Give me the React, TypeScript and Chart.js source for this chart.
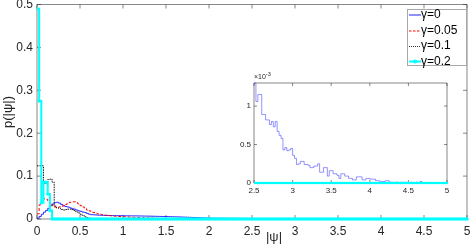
import React, { useEffect, useRef } from "react";
import { Chart, registerables } from "chart.js";

Chart.register(...registerables);

const FONT = '"Liberation Sans", Arial, Helvetica, sans-serif';
const TEXT_COLOR = "#262626";
const FRAME_COLOR = "rgba(38,38,38,0.55)";

// histogram bin positions (|psi|), step 0.025 from 0 to 5
const BIN_WIDTH = 0.025;
const binEdges: number[] = Array.from({ length: 201 }, (_, i) => Math.round(i * BIN_WIDTH * 1000) / 1000);

const xTicks = [0, 0.5, 1, 1.5, 2, 2.5, 3, 3.5, 4, 4.5, 5];
const yTicks = [0, 0.1, 0.2, 0.3, 0.4, 0.5];
const insetXTicks = [2.5, 3, 3.5, 4, 4.5, 5];
const insetYTicks = [0, 0.5, 1];
const legendLabels = ["γ=0", "γ=0.05", "γ=0.1", "γ=0.2"];

// gamma = 0, bins 0 .. 2.475
const gamma0Head = [
  0.002, 0.006, 0.011, 0.016, 0.020, 0.025, 0.031, 0.035, 0.038, 0.039,
  0.037, 0.034, 0.031, 0.029, 0.028, 0.026, 0.024, 0.023, 0.021, 0.019,
  0.018, 0.016, 0.015, 0.013, 0.011, 0.010, 0.0098, 0.0094, 0.0090, 0.0088,
  0.0086, 0.0084, 0.0083, 0.0082, 0.0081, 0.0080, 0.0079, 0.0078, 0.0078, 0.0077,
  0.0076, 0.0075, 0.0075, 0.0074, 0.0073, 0.0073, 0.0072, 0.0071, 0.0070, 0.0069,
  0.0068, 0.0067, 0.0066, 0.0065, 0.0064, 0.0062, 0.0061, 0.0060, 0.0058, 0.0057,
  0.0056, 0.0055, 0.0054, 0.0052, 0.0051, 0.0049, 0.0047, 0.0046, 0.0044, 0.0042,
  0.0040, 0.0038, 0.0036, 0.0034, 0.0032, 0.0030, 0.0028, 0.0026, 0.0024, 0.0022,
  0.0020, 0.0019, 0.0019, 0.0018, 0.0018, 0.0017, 0.0017, 0.0016, 0.0016, 0.0015,
  0.0015, 0.0015, 0.0014, 0.0014, 0.0014, 0.0013, 0.0013, 0.0013, 0.0012, 0.0012,
];

// gamma = 0, bins 2.5 .. 5.0, in units of 1e-3
const gamma0TailE3 = [
  1.30, 1.06, 1.15, 1.15, 0.89, 0.89, 0.82, 0.82, 0.76, 0.80,
  0.73, 0.80, 0.67, 0.62, 0.58, 0.43, 0.46, 0.42, 0.43, 0.45,
  0.36, 0.32, 0.24, 0.25, 0.28, 0.28, 0.24, 0.24, 0.23, 0.20,
  0.20, 0.22, 0.22, 0.25, 0.14, 0.14, 0.20, 0.20, 0.09, 0.16,
  0.16, 0.12, 0.12, 0.10, 0.06, 0.12, 0.12, 0.09, 0.09, 0.06,
  0.06, 0.04, 0.04, 0.08, 0.08, 0.08, 0.04, 0.04, 0.06, 0.06,
  0.05, 0.05, 0.05, 0.03, 0.03, 0.02, 0.02, 0.02, 0.03, 0.03,
  0.01, 0.01, 0, 0.01, 0.01, 0, 0.01, 0, 0.01, 0,
  0, 0.01, 0, 0, 0.01, 0, 0.02, 0, 0, 0,
  0, 0, 0, 0, 0, 0, 0, 0, 0, 0,
  0,
];

// gamma = 0.05, bins 0 .. 1.75
const gamma005 = [
  0.012, 0.033, 0.043, 0.047, 0.046, 0.042, 0.037, 0.031, 0.028, 0.027,
  0.028, 0.029, 0.031, 0.034, 0.037, 0.039, 0.040, 0.040, 0.038, 0.035,
  0.031, 0.028, 0.024, 0.021, 0.019, 0.017, 0.015, 0.014, 0.012, 0.011,
  0.010, 0.0092, 0.0086, 0.0080, 0.0075, 0.0070, 0.0066, 0.0062, 0.0058, 0.0055,
  0.0052, 0.0049, 0.0046, 0.0043, 0.0040, 0.0037, 0.0035, 0.0033, 0.0031, 0.0029,
  0.0027, 0.0025, 0.0023, 0.0021, 0.0019, 0.0017, 0.0016, 0.0014, 0.0013, 0.0012,
  0.0010, 0.0009, 0.0008, 0.0007, 0.0006, 0.0005, 0.0004, 0.0003, 0.0002, 0.0001,
  0,
];

// gamma = 0.1, bins 0 .. 0.7
const gamma01 = [
  0.124, 0.124, 0.124, 0.083, 0.082, 0.092, 0.093, 0.086, 0.030, 0.026,
  0.025, 0.022, 0.021, 0.022, 0.023, 0.023, 0.022, 0.020, 0.017, 0.014,
  0.011, 0.008, 0.005, 0.003, 0.002, 0.001, 0.0005, 0, 0,
];

// gamma = 0.2, bins 0 .. 5.0
const gamma02 = [
  0.49, 0.275, 0.038, 0.086, 0.086, 0.058, 0.02, 0, 0, 0,
  0, 0, 0, 0, 0, 0, 0, 0, 0, 0,
  0, 0, 0, 0, 0, 0, 0, 0, 0, 0,
  0, 0, 0, 0, 0, 0, 0, 0, 0, 0,
  0, 0, 0, 0, 0, 0, 0, 0, 0, 0,
  0, 0, 0, 0, 0, 0, 0, 0, 0, 0,
  0, 0, 0, 0, 0, 0, 0, 0, 0, 0,
  0, 0, 0, 0, 0, 0, 0, 0, 0, 0,
  0, 0, 0, 0, 0, 0, 0, 0, 0, 0,
  0, 0, 0, 0, 0, 0, 0, 0, 0, 0,
  0, 0, 0, 0, 0, 0, 0, 0, 0, 0,
  0, 0, 0, 0, 0, 0, 0, 0, 0, 0,
  0, 0, 0, 0, 0, 0, 0, 0, 0, 0,
  0, 0, 0, 0, 0, 0, 0, 0, 0, 0,
  0, 0, 0, 0, 0, 0, 0, 0, 0, 0,
  0, 0, 0, 0, 0, 0, 0, 0, 0, 0,
  0, 0, 0, 0, 0, 0, 0, 0, 0, 0,
  0, 0, 0, 0, 0, 0, 0, 0, 0, 0,
  0, 0, 0, 0, 0, 0, 0, 0, 0, 0,
  0, 0, 0, 0, 0, 0, 0, 0, 0, 0,
  0,
];

const pts = (vals: number[], offset = 0) => vals.map((y, i) => ({ x: binEdges[i + offset], y }));
const fmt = (v: any) => String(Math.round(Number(v) * 100) / 100);

function framePlugin(id: string, xt: number[], yt: number[], len: number) {
  return {
    id,
    beforeDatasetsDraw(chart: any) {
      const { ctx, chartArea: a, scales } = chart;
      ctx.save();
      ctx.strokeStyle = FRAME_COLOR;
      ctx.lineWidth = 1;
      ctx.beginPath();
      ctx.rect(a.left, a.top, a.right - a.left, a.bottom - a.top);
      for (const v of xt) {
        const p = scales.x.getPixelForValue(v);
        ctx.moveTo(p, a.bottom);
        ctx.lineTo(p, a.bottom - len);
        ctx.moveTo(p, a.top);
        ctx.lineTo(p, a.top + len);
      }
      for (const v of yt) {
        const p = scales.y.getPixelForValue(v);
        ctx.moveTo(a.left, p);
        ctx.lineTo(a.left + len, p);
        ctx.moveTo(a.right, p);
        ctx.lineTo(a.right - len, p);
      }
      ctx.stroke();
      ctx.restore();
    },
  };
}

const legendPlugin = {
  id: "legendBox",
  afterDraw(chart: any) {
    const ctx = chart.ctx;
    ctx.save();
    ctx.fillStyle = "#ffffff";
    ctx.fillRect(407.5, 9.5, 59, 56);
    ctx.strokeStyle = "#a8a8a8";
    ctx.lineWidth = 1;
    ctx.strokeRect(407.5, 9.5, 59, 56);
    const ys = [15, 30.5, 46, 61.5];
    const x0 = 409;
    const x1 = 421;
    // gamma=0
    ctx.strokeStyle = "#9090ff";
    ctx.lineWidth = 2;
    ctx.beginPath(); ctx.moveTo(x0, ys[0]); ctx.lineTo(x1, ys[0]); ctx.stroke();
    // gamma=0.05
    ctx.strokeStyle = "#ff0000";
    ctx.lineWidth = 1;
    ctx.setLineDash([2.5, 1.5]);
    ctx.beginPath(); ctx.moveTo(x0, ys[1] + 0.5); ctx.lineTo(x1, ys[1] + 0.5); ctx.stroke();
    // gamma=0.1
    ctx.strokeStyle = "#333333";
    ctx.setLineDash([1, 1]);
    ctx.beginPath(); ctx.moveTo(x0, ys[2] + 0.5); ctx.lineTo(x1, ys[2] + 0.5); ctx.stroke();
    ctx.setLineDash([]);
    // gamma=0.2
    ctx.strokeStyle = "#00ffff";
    ctx.lineWidth = 2;
    ctx.beginPath(); ctx.moveTo(x0, ys[3]); ctx.lineTo(x1, ys[3]); ctx.stroke();
    ctx.fillStyle = "#00ffff";
    ctx.beginPath(); ctx.arc((x0 + x1) / 2, ys[3], 2, 0, Math.PI * 2); ctx.fill();
    ctx.fillStyle = "#000000";
    ctx.font = `12px ${FONT}`;
    ctx.textBaseline = "middle";
    ctx.textAlign = "left";
    legendLabels.forEach((t, i) => ctx.fillText(t, x1, ys[i]));
    ctx.restore();
  },
};

const titlesPlugin = {
  id: "axisTitles",
  afterDraw(chart: any) {
    const ctx = chart.ctx;
    ctx.save();
    ctx.fillStyle = TEXT_COLOR;
    ctx.font = `13px ${FONT}`;
    ctx.textAlign = "center";
    ctx.textBaseline = "middle";
    ctx.fillText("|ψ|", 274, 237);
    ctx.translate(8.5, 112);
    ctx.rotate(-Math.PI / 2);
    ctx.fillText("p(|ψ|)", 0, 0);
    ctx.restore();
  },
};

const exponentPlugin = {
  id: "insetExponent",
  afterDraw(chart: any) {
    const ctx = chart.ctx;
    const a = chart.chartArea;
    ctx.save();
    ctx.fillStyle = TEXT_COLOR;
    ctx.textBaseline = "alphabetic";
    ctx.textAlign = "left";
    ctx.font = `7px ${FONT}`;
    ctx.fillText("×10", a.left, a.top - 4);
    const w = ctx.measureText("×10").width;
    ctx.font = `5.5px ${FONT}`;
    ctx.fillText("-3", a.left + w, a.top - 7.5);
    ctx.restore();
  },
};

export default function App() {
  const mainRef = useRef<HTMLCanvasElement>(null);
  const insetRef = useRef<HTMLCanvasElement>(null);

  useEffect(() => {
    const gamma0 = gamma0Head.concat(gamma0TailE3.map((v) => v / 1000));
    const mainClip = { left: 0, top: 3, right: 3, bottom: 3 } as any;
    const main = new Chart(mainRef.current as HTMLCanvasElement, {
      type: "line",
      data: {
        datasets: [
          {
            label: legendLabels[0], data: pts(gamma0), borderColor: "#2a2aff", borderWidth: 1,
            pointRadius: 0, stepped: "before", order: 3, clip: mainClip,
          },
          {
            label: legendLabels[1], data: pts(gamma005), borderColor: "#ff0000", borderWidth: 1,
            borderDash: [3, 2], pointRadius: 0, stepped: "before", order: 2, clip: mainClip,
          },
          {
            label: legendLabels[2], data: pts(gamma01), borderColor: "#111111", borderWidth: 1,
            borderDash: [1.5, 1], pointRadius: 0, stepped: "before", order: 1, clip: mainClip,
          },
          {
            label: legendLabels[3], data: pts(gamma02), borderColor: "#00ffff", borderWidth: 2,
            pointRadius: 1.7, pointBackgroundColor: "#00ffff", pointBorderWidth: 0,
            stepped: "before", order: 0, clip: mainClip,
          },
        ] as any,
      },
      options: {
        responsive: false,
        animation: false,
        devicePixelRatio: 1,
        events: [],
        layout: { padding: { left: 0, top: 4.5, right: 4, bottom: 0 } },
        plugins: { legend: { display: false }, tooltip: { enabled: false } },
        scales: {
          x: {
            type: "linear", min: 0, max: 5,
            afterBuildTicks: (s: any) => { s.ticks = xTicks.map((v) => ({ value: v })); },
            ticks: { callback: fmt, font: { family: FONT, size: 12 }, color: TEXT_COLOR, padding: 5, maxRotation: 0, autoSkip: false },
            grid: { display: false, drawTicks: false },
            border: { display: false },
            afterFit: (s: any) => { s.height = 25; s.paddingLeft = 0; s.paddingRight = 0; },
          },
          y: {
            type: "linear", min: 0, max: 0.5,
            afterBuildTicks: (s: any) => { s.ticks = yTicks.map((v) => ({ value: v })); },
            ticks: { callback: fmt, font: { family: FONT, size: 12 }, color: TEXT_COLOR, padding: 4, autoSkip: false },
            grid: { display: false, drawTicks: false },
            border: { display: false },
            afterFit: (s: any) => { s.width = 37; s.paddingTop = 0; s.paddingBottom = 0; },
          },
        } as any,
      },
      plugins: [framePlugin("mainFrame", xTicks, yTicks, 4), legendPlugin, titlesPlugin],
    });

    const insetClip = { left: 0, top: 1, right: 2, bottom: 2 } as any;
    const inset = new Chart(insetRef.current as HTMLCanvasElement, {
      type: "line",
      data: {
        datasets: [
          {
            label: legendLabels[0], data: pts(gamma0TailE3, 100), borderColor: "rgba(60,60,255,0.55)",
            borderWidth: 1, pointRadius: 0, stepped: "before", order: 1, clip: insetClip,
          },
          {
            label: legendLabels[3], data: pts(gamma02.slice(100), 100), borderColor: "#00ffff",
            borderWidth: 2, pointRadius: 1.2, pointBackgroundColor: "#00ffff", pointBorderWidth: 0,
            stepped: "before", order: 0, clip: insetClip,
          },
        ] as any,
      },
      options: {
        responsive: false,
        animation: false,
        devicePixelRatio: 1,
        events: [],
        layout: { padding: { left: 0, top: 18, right: 13, bottom: 0 } },
        plugins: { legend: { display: false }, tooltip: { enabled: false } },
        scales: {
          x: {
            type: "linear", min: 2.5, max: 5,
            afterBuildTicks: (s: any) => { s.ticks = insetXTicks.map((v) => ({ value: v })); },
            ticks: { callback: fmt, font: { family: FONT, size: 8 }, color: TEXT_COLOR, padding: 3, maxRotation: 0, autoSkip: false },
            grid: { display: false, drawTicks: false },
            border: { display: false },
            afterFit: (s: any) => { s.height = 17; s.paddingLeft = 0; s.paddingRight = 0; },
          },
          y: {
            type: "linear", min: 0, max: 1.3,
            afterBuildTicks: (s: any) => { s.ticks = insetYTicks.map((v) => ({ value: v })); },
            ticks: { callback: fmt, font: { family: FONT, size: 8 }, color: TEXT_COLOR, padding: 3, autoSkip: false },
            grid: { display: false, drawTicks: false },
            border: { display: false },
            afterFit: (s: any) => { s.width = 24; s.paddingTop = 0; s.paddingBottom = 0; },
          },
        } as any,
      },
      plugins: [framePlugin("insetFrame", insetXTicks, insetYTicks, 3), exponentPlugin],
    });

    return () => {
      main.destroy();
      inset.destroy();
    };
  }, []);

  return (
    <div style={{ position: "absolute", left: 0, top: 0, width: 471, height: 244, background: "#ffffff" }}>
      <canvas ref={mainRef} width={471} height={244} style={{ position: "absolute", left: 0, top: 0, width: 471, height: 244 }} />
      <canvas ref={insetRef} width={230} height={135} style={{ position: "absolute", left: 230, top: 65, width: 230, height: 135 }} />
    </div>
  );
}
